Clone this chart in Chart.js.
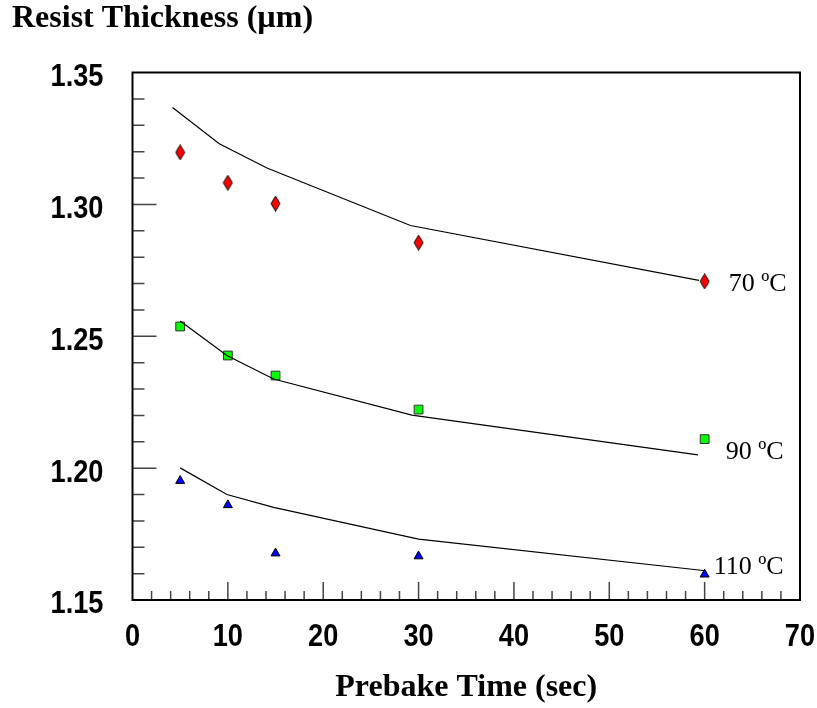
<!DOCTYPE html>
<html>
<head>
<meta charset="utf-8">
<script src="https://cdn.jsdelivr.net/npm/chart.js@4"></script>
<style>
  body { margin: 0; background: #fff; }
  #wrap { width: 817px; height: 708px; }
</style>
</head>
<body>
<div id="wrap"><canvas id="resistChart" width="817" height="708"></canvas></div>
<script>
// measured prebake times and resist thickness (um)
const times = [5, 10, 15, 30, 60];
const thick70 = [1.3197, 1.3082, 1.3003, 1.2855, 1.2708];
const thick90 = [1.2537, 1.2427, 1.2351, 1.2222, 1.2110];
const thick110 = [1.1952, 1.1860, 1.1677, 1.1666, 1.1597];

// model curves
const fit70Times = [4.2, 9.1, 14.1, 29.15, 59.4];
const fit70 = [1.3367, 1.3230, 1.3138, 1.2920, 1.2712];
const fit90Times = [5.0, 9.9, 14.8, 29.3, 59.3];
const fit90 = [1.2558, 1.2427, 1.2338, 1.2201, 1.2050];
const fit110Times = [5.0, 9.9, 14.8, 30.0, 60.1];
const fit110 = [1.2001, 1.1900, 1.1851, 1.1731, 1.1611];

const seriesLabels = ['70 ºC', '90 ºC', '110 ºC'];
const xTicks = [0, 10, 20, 30, 40, 50, 60, 70];
const yTicks = [1.15, 1.20, 1.25, 1.30, 1.35];

const pts = (xs, ys) => xs.map((x, i) => ({x: x, y: ys[i]}));

// tall diamond marker
function makeDiamond() {
    const c = document.createElement('canvas');
    c.width = 11; c.height = 16;
    const g = c.getContext('2d');
    g.beginPath();
    g.moveTo(5.5, 0.5);
    g.lineTo(10, 8);
    g.lineTo(5.5, 15.5);
    g.lineTo(1, 8);
    g.closePath();
    g.fillStyle = '#ff0000';
    g.fill();
    g.strokeStyle = '#000';
    g.lineWidth = 1;
    g.stroke();
    return c;
}

// narrow bold text (Helvetica Narrow look)
function narrowText(ctx, txt, x, y, align) {
    ctx.save();
    ctx.translate(x, y);
    ctx.scale(0.85, 1);
    ctx.textAlign = align;
    ctx.fillText(txt, 0, 0);
    ctx.restore();
}

const frameTicks = {
    id: 'frameTicks',
    afterDraw(chart) {
        const {ctx, chartArea: a, scales: {x, y}} = chart;
        ctx.save();
        ctx.strokeStyle = '#444';
        ctx.lineWidth = 1.5;
        ctx.beginPath();
        // x ticks every 2, major every 10
        for (let v = 2; v < 70; v += 2) {
            const px = x.getPixelForValue(v);
            const len = v % 10 === 0 ? 18 : 9;
            ctx.moveTo(px, a.bottom);
            ctx.lineTo(px, a.bottom - len);
        }
        // y ticks every 0.01, major every 0.05
        for (let i = 1; i < 20; i++) {
            const py = y.getPixelForValue(1.15 + i * 0.01);
            const len = i % 5 === 0 ? 24 : 12;
            ctx.moveTo(a.left, py);
            ctx.lineTo(a.left + len, py);
        }
        ctx.stroke();
        ctx.strokeStyle = '#000';
        ctx.lineWidth = 2;
        ctx.strokeRect(a.left, a.top, a.right - a.left, a.bottom - a.top);

        // tick labels
        ctx.fillStyle = '#000';
        ctx.font = 'bold 32px "Liberation Sans", Arial, sans-serif';
        ctx.textBaseline = 'alphabetic';
        xTicks.forEach(v => narrowText(ctx, String(v), x.getPixelForValue(v), a.bottom + 46, 'center'));
        yTicks.forEach(v => narrowText(ctx, v.toFixed(2), a.left - 29, y.getPixelForValue(v) + 13.4, 'right'));
        ctx.restore();
    },
    afterDatasetsDraw(chart, args, opts) {
        const {ctx, scales: {x, y}} = chart;
        const last = [thick70, thick90, thick110].map(s => s[s.length - 1]);
        ctx.save();
        ctx.font = '26px "Liberation Serif", "Times New Roman", serif';
        ctx.fillStyle = '#000';
        ctx.textBaseline = 'middle';
        ctx.textAlign = 'left';
        seriesLabels.forEach((txt, i) => {
            const px = x.getPixelForValue(times[times.length - 1]) + opts.dx[i];
            const py = y.getPixelForValue(last[i]) + opts.dy[i];
            ctx.fillText(txt, px, py);
        });
        ctx.restore();
    }
};

const lineStyle = {
    showLine: true,
    borderColor: '#000',
    borderWidth: 1.2,
    pointRadius: 0,
    tension: 0,
    fill: false
};

const ctx = document.getElementById('resistChart').getContext('2d');
new Chart(ctx, {
    type: 'scatter',
    data: {
        datasets: [
            Object.assign({data: pts(fit70Times, fit70)}, lineStyle),
            Object.assign({data: pts(fit90Times, fit90)}, lineStyle),
            Object.assign({data: pts(fit110Times, fit110)}, lineStyle),
            {
                data: pts(times, thick70),
                pointStyle: makeDiamond(),
                pointRadius: 6
            },
            {
                data: pts(times, thick90),
                pointStyle: 'rect',
                pointRadius: 6.2,
                backgroundColor: '#00ff00',
                borderColor: '#333',
                borderWidth: 1
            },
            {
                data: pts(times, thick110),
                pointStyle: 'triangle',
                pointRadius: 5.2,
                backgroundColor: '#0000ff',
                borderColor: '#000',
                borderWidth: 1
            }
        ]
    },
    options: {
        responsive: false,
        animation: false,
        devicePixelRatio: 1,
        layout: {padding: {left: 12, right: 17, top: 0, bottom: 0}},
        plugins: {
            legend: {display: false},
            tooltip: {enabled: false},
            title: {
                display: true,
                text: 'Resist Thickness (µm)',
                align: 'start',
                color: '#000',
                font: {family: '"Liberation Serif", "Times New Roman", serif', size: 32, weight: 'bold'},
                padding: {top: 0, bottom: 34.1}
            },
            frameTicks: {dx: [24, 21, 9], dy: [3, 13.5, -7]}
        },
        scales: {
            x: {
                type: 'linear',
                min: 0,
                max: 70,
                afterFit: s => { s.height = 108; },
                grid: {display: false},
                border: {display: false},
                ticks: {display: false},
                title: {
                    display: true,
                    text: 'Prebake Time (sec)',
                    color: '#000',
                    font: {family: '"Liberation Serif", "Times New Roman", serif', size: 32, weight: 'bold'},
                    padding: {top: 0, bottom: 1}
                }
            },
            y: {
                type: 'linear',
                min: 1.15,
                max: 1.35,
                afterFit: s => { s.width = 120.5; },
                grid: {display: false},
                border: {display: false},
                ticks: {display: false}
            }
        }
    },
    plugins: [frameTicks]
});
</script>
</body>
</html>
